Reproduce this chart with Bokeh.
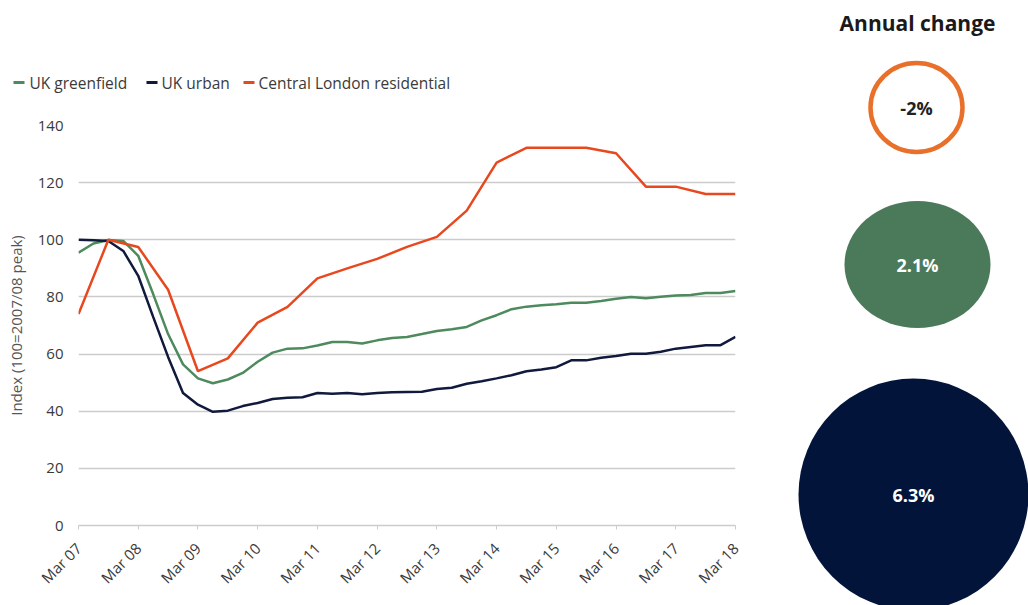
import math
from bokeh.plotting import figure
from bokeh.models import Range1d, FixedTicker, ColumnDataSource
from bokeh.layouts import row, column
from bokeh.embed import file_html
from bokeh.resources import INLINE
from bokeh.core.properties import value

# ---------------- data ----------------
year_labels = ["Mar 07", "Mar 08", "Mar 09", "Mar 10", "Mar 11", "Mar 12",
               "Mar 13", "Mar 14", "Mar 15", "Mar 16", "Mar 17", "Mar 18"]

# quarterly, Mar 07 .. Mar 18
uk_greenfield = [95.5, 98.7, 99.9, 99.6,
                 94.4, 81.0, 67.0, 56.4,
                 51.5, 49.8, 51.1, 53.4,
                 57.3, 60.5, 61.9, 62.0,
                 63.0, 64.2, 64.2, 63.7,
                 64.8, 65.6, 66.0, 67.0,
                 68.1, 68.7, 69.5, 71.8,
                 73.6, 75.7, 76.6, 77.1,
                 77.4, 78.0, 78.0, 78.6,
                 79.4, 80.0, 79.5, 80.1,
                 80.5, 80.7, 81.4, 81.4,
                 82.1]
uk_urban = [100.0, 99.8, 99.6, 96.1,
            87.4, 73.0, 59.0, 46.4,
            42.3, 39.8, 40.2, 41.8,
            42.9, 44.3, 44.7, 44.9,
            46.4, 46.1, 46.4, 45.9,
            46.4, 46.6, 46.7, 46.8,
            47.8, 48.2, 49.6, 50.5,
            51.5, 52.6, 54.0, 54.6,
            55.4, 57.8, 57.8, 58.7,
            59.3, 60.1, 60.1, 60.8,
            61.9, 62.5, 63.1, 63.1,
            66.0]
# half-yearly, Mar 07 .. Mar 18
central_london = [74.0, 100.0, 97.5, 82.5, 54.0, 58.5, 71.0, 76.5, 86.5, 90.0,
                  93.3, 97.5, 101.0, 110.2, 127.0, 132.2, 132.2, 132.2, 130.3,
                  118.6, 118.6, 116.0, 116.0]

series_names = ["UK greenfield", "UK urban", "Central London residential"]
annual_change = [-2.0, 2.1, 6.3]          # Central London, greenfield, urban
annual_labels = ["%g%%" % v for v in annual_change]

y_ticks = [0, 20, 40, 60, 80, 100, 120, 140]

# ---------------- styles ----------------
FONT = "Open Sans"
GREEN = "#4d8a5d"
NAVY = "#111a3d"
ORANGE = "#e8481e"
GRID = "#cccccc"
TXT = "#3a3a3a"
series_colors = [GREEN, NAVY, ORANGE]

q_x = [i / 4 for i in range(len(uk_greenfield))]
h_x = [i / 2 for i in range(len(central_london))]

W_LEFT = 780
W_RIGHT = 248
H = 605
LEG_H = 108

# ---------------- legend strip (pixel coordinates) ----------------
pl = figure(width=W_LEFT, height=LEG_H, output_backend="svg", toolbar_location=None,
            x_range=Range1d(0, W_LEFT), y_range=Range1d(LEG_H, 0),
            min_border=0, frame_align=False)
pl.axis.visible = False
pl.grid.visible = False
pl.outline_line_color = None
leg_glyph_x = [13, 146, 243]
leg_text_x = [29, 161, 258]
leg_y = 82
pl.segment(x0=leg_glyph_x, x1=[v + 11 for v in leg_glyph_x], y0=[leg_y] * 3,
           y1=[leg_y] * 3, line_color=series_colors, line_width=3)
pl.text(x=leg_text_x, y=[leg_y] * 3, text=series_names, text_align="left",
        text_baseline="middle", text_font=value(FONT), text_font_size="15.5px",
        text_color=TXT)

# ---------------- line chart ----------------
p = figure(width=W_LEFT, height=H - LEG_H, output_backend="svg",
           toolbar_location=None,
           x_range=Range1d(0, len(year_labels) - 1), y_range=Range1d(0, 140),
           min_border_left=78, min_border_right=45,
           min_border_top=125 - LEG_H, min_border_bottom=80,
           frame_align=False)
p.outline_line_color = None
p.background_fill_color = "white"
p.border_fill_color = "white"

p.line(q_x, uk_greenfield, line_color=GREEN, line_width=2.5)
p.line(q_x, uk_urban, line_color=NAVY, line_width=2.5)
p.line(h_x, central_london, line_color=ORANGE, line_width=2.5)

p.xaxis.ticker = FixedTicker(ticks=list(range(len(year_labels))))
p.xaxis.major_label_overrides = {i: lab for i, lab in enumerate(year_labels)}
p.xaxis.major_label_orientation = math.pi / 4
p.xaxis.axis_line_color = GRID
p.xaxis.axis_line_width = 1.5
p.xaxis.major_tick_line_color = GRID
p.xaxis.major_tick_out = 4
p.xaxis.major_tick_in = 0
p.xaxis.minor_tick_line_color = None
p.xaxis.major_label_text_font = FONT
p.xaxis.major_label_text_font_size = "15px"
p.xaxis.major_label_text_color = TXT
p.xaxis.major_label_standoff = 16

p.yaxis.ticker = FixedTicker(ticks=y_ticks)
p.yaxis.axis_line_color = None
p.yaxis.major_tick_line_color = None
p.yaxis.minor_tick_line_color = None
p.yaxis.major_label_standoff = 9
p.yaxis.major_label_text_font = FONT
p.yaxis.major_label_text_font_size = "15px"
p.yaxis.major_label_text_color = TXT
p.yaxis.axis_label = "Index (100=2007/08 peak)"
p.yaxis.axis_label_text_font = FONT
p.yaxis.axis_label_text_font_size = "15px"
p.yaxis.axis_label_text_font_style = "normal"
p.yaxis.axis_label_text_color = "#555555"
p.yaxis.axis_label_standoff = 9

p.xgrid.visible = False
p.ygrid.grid_line_color = GRID
p.ygrid.grid_line_width = 1.5

# ---------------- annual change panel ----------------
p2 = figure(width=W_RIGHT, height=H, output_backend="svg", toolbar_location=None,
            x_range=Range1d(W_LEFT, W_LEFT + W_RIGHT), y_range=Range1d(H, 0),
            min_border=0, frame_align=False)
p2.axis.visible = False
p2.grid.visible = False
p2.outline_line_color = None

cx = [916, 917, 913]
cy = [107, 264, 494]
cw = [92, 146, 230]
ch = [89, 127, 232]
fills = ["white", "#4b7a5b", "#03143a"]
lines = ["#e8702a", None, None]
lws = [4.5, 0, 0]
tcols = ["#222222", "white", "white"]

src = ColumnDataSource(dict(x=cx, y=cy, w=cw, h=ch, fill=fills, line=lines,
                            lw=lws, label=annual_labels, tc=tcols))
p2.ellipse(x="x", y="y", width="w", height="h", width_units="screen",
           height_units="screen", fill_color="fill", line_color="line",
           line_width="lw", source=src)
p2.text(x="x", y="y", text="label", text_color="tc", text_align="center",
        text_baseline="middle", text_font=value(FONT), text_font_style="bold",
        text_font_size="18px", source=src)
p2.text(x=[917], y=[22], text=["Annual change"], text_align="center",
        text_baseline="middle", text_font=value(FONT), text_font_style="bold",
        text_font_size="21px", text_color="#1a1a1a")

layout = row(column(pl, p, spacing=0), p2, spacing=0)
open("out.html", "w").write(file_html(layout, INLINE))
